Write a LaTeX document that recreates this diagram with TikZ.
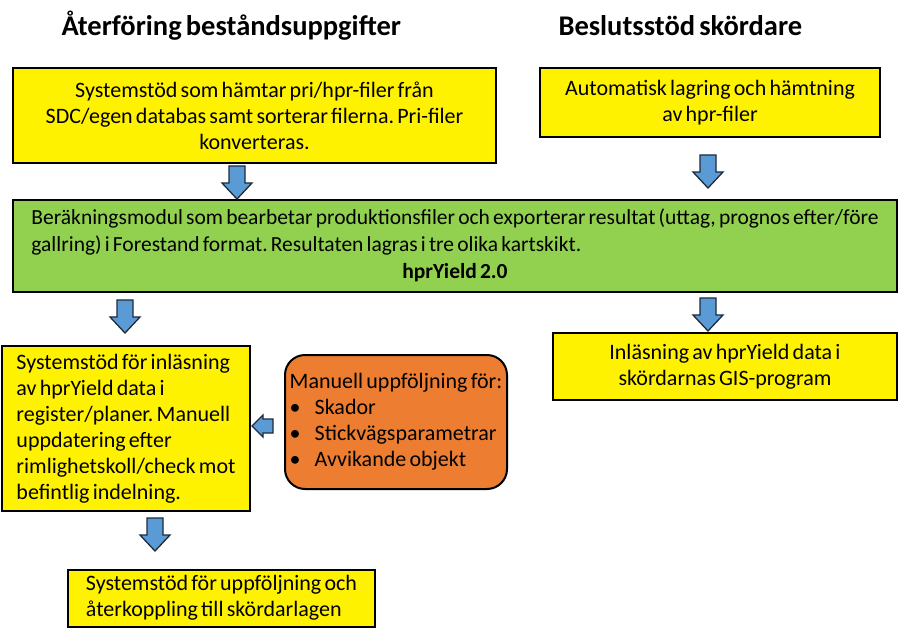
\documentclass[tikz,border=0pt]{standalone}
\usepackage{fontspec}
\setmainfont[WordSpace=0.65]{Carlito}

\definecolor{calcgreen}{HTML}{92D050}
\definecolor{manorange}{HTML}{ED7D31}
\definecolor{arrowblue}{HTML}{5B9BD5}
\definecolor{arrowline}{HTML}{1F2A3A}

\tikzset{
  box/.style={draw=black, line width=2pt, fill=yellow, inner sep=0pt,
    font=\fontsize{22}{26}\selectfont\frenchspacing},
  calcbox/.style={box, fill=calcgreen, font=\fontsize{21.5}{27}\selectfont\frenchspacing},
  manbox/.style={box, fill=manorange, rounded corners=20pt},
  title/.style={font=\fontsize{28.5}{32}\selectfont\bfseries, anchor=base west},
  blkarrow/.style={draw=arrowline, line width=1.3pt, fill=arrowblue, line join=miter},
  % block arrow pointing down, origin at top of shaft
  pics/downarrow/.style={code={
    \draw[blkarrow] (-8, 0) -- (8, 0) -- (8, 17) -- (15, 17) -- (0, 33) -- (-15, 17) -- (-8, 17) -- cycle;}},
  % block arrow pointing left, origin at the tip
  pics/leftarrow/.style={code={
    \draw[blkarrow] (0, 0) -- (11, -11) -- (11, -7) -- (21, -7) -- (21, 7) -- (11, 7) -- (11, 11) -- cycle;}}
}

\begin{document}
\begin{tikzpicture}[x=1pt, y=-1pt]
		%%%%% START %%%%%
		\useasboundingbox (0, 0) rectangle (919, 639);
		
		\node[title] (titleleft) at (58, 36) {Återföring beståndsuppgifter};
		\node[title] (titleright) at (555, 36) {Beslutsstöd skördare};
		
		\node[box, align=center, minimum width=483pt, minimum height=95pt] (fetch) at (254.5, 115.5)
			{Systemstöd som hämtar pri/hpr-filer från\\SDC/egen databas samt sorterar filerna. Pri-filer\\konverteras.};
		\node[box, align=center, minimum width=340pt, minimum height=69pt] (store) at (710, 102.5)
			{Automatisk lagring och hämtning\\av hpr-filer};
		
		\node[calcbox, minimum width=884pt, minimum height=92pt] (calc) at (455, 246)
			{\begin{tabular}{@{}l@{}}
			Beräkningsmodul som bearbetar produktionsfiler och exporterar resultat (uttag, prognos efter/före\\
			gallring) i Forestand format. Resultaten lagras i tre olika kartskikt.\\
			\multicolumn{1}{@{}c@{}}{\textbf{hprYield 2.0}}
			\end{tabular}};
		
		\node[box, align=left, minimum width=248pt, minimum height=165pt] (register) at (126, 428.5)
			{Systemstöd för inläsning\\av hprYield data i\\register/planer. Manuell\\uppdatering efter\\rimlighetskoll/check mot\\befintlig indelning.};
		\node[manbox, align=left, minimum width=222pt, minimum height=134pt] (manual) at (396, 422)
			{Manuell uppföljning för:\\
			\makebox[25pt][l]{\textbullet}Skador\\
			\makebox[25pt][l]{\textbullet}Stickvägsparametrar\\
			\makebox[25pt][l]{\textbullet}Avvikande objekt};
		\node[box, align=center, minimum width=344pt, minimum height=67pt] (gis) at (725, 366.5)
			{Inläsning av hprYield data i\\skördarnas GIS-program};
		\node[box, align=left, minimum width=307pt, minimum height=57pt] (feedback) at (221.5, 598)
			{Systemstöd för uppföljning och\\återkoppling till skördarlagen};
		
		% block arrows
		\pic (arrfetch) at (237, 166) {downarrow};
		\pic (arrstore) at (708, 155) {downarrow};
		\pic (arrreg) at (125, 300) {downarrow};
		\pic (arrgis) at (708, 298) {downarrow};
		\pic (arrman) at (252, 426) {leftarrow};
		\pic (arrfeed) at (155, 518) {downarrow};
		%%%%% END %%%%%
\end{tikzpicture}
\end{document}
